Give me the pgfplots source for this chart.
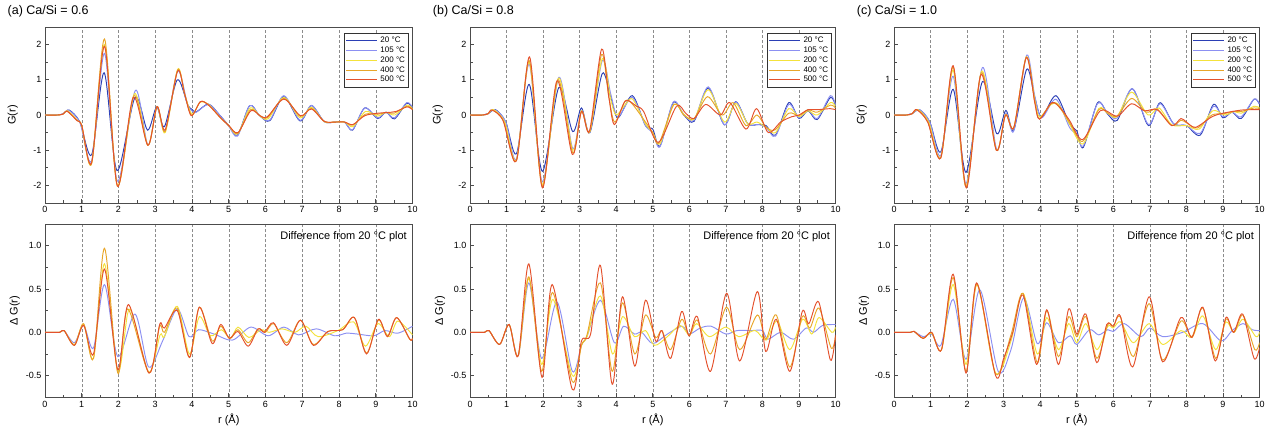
\documentclass[border=0pt]{standalone}
\usepackage{fontspec}
\setmainfont{Liberation Sans}
\usepackage{pgfplots}
\pgfplotsset{compat=1.18}
\definecolor{tA}{HTML}{2B3FB5}
\definecolor{tB}{HTML}{8C90F2}
\definecolor{tC}{HTML}{F4E23C}
\definecolor{tD}{HTML}{E8A62A}
\definecolor{tE}{HTML}{E4512C}

\pgfplotsset{
  panel/.style={
    scale only axis, anchor=south west,
    xmin=0, xmax=10, xtick={0,...,10}, minor x tick num=1,
    tick align=inside, tick pos=left,
    major tick length=4pt, minor tick length=2.5pt,
    axis line style={draw=black!70, line width=0.7pt},
    tick style={draw=black!70, line width=0.6pt},
    xmajorgrids,
    major x grid style={dash pattern=on 3pt off 2pt, draw=black!45, line width=0.5pt},
    /pgf/number format/assume math mode=true,
    ticklabel style={font=\fontsize{9}{10}\selectfont},
    label style={font=\fontsize{11}{12}\selectfont},
    title style={font=\fontsize{12.5}{14}\selectfont, at={(axis description cs:-0.102,1)}, anchor=base west, yshift=6.5pt, inner sep=0pt},
    every axis plot/.append style={smooth, no markers, line width=0.95pt},
  },
  toprow/.style={panel, height=176pt, ymin=-2.5, ymax=2.5, ytick={-2,-1,0,1,2},
    yticklabels={-2,-1,0,1,2}, minor y tick num=1,
    ylabel={G(r)}, ylabel style={at={(axis description cs:-0.088,0.5)}, anchor=center, rotate=0},
    legend entries={20 °C,105 °C,200 °C,400 °C,500 °C},
    legend cell align=left,
    legend image code/.code={\draw[##1, line width=0.9pt] (0pt,0pt) -- (31pt,0pt);},
    legend style={at={(axis description cs:0.99,0.966)}, anchor=north east, draw=black!80, line width=0.6pt,
      font=\fontsize{8}{8}\selectfont, inner sep=1.5pt, row sep=-1.2pt, column sep=1pt},
  },
  botrow/.style={panel, height=173.3pt, ymin=-0.75, ymax=1.25, ytick={-0.5,0,0.5,1},
    yticklabels={-0.5,0.0,0.5,1.0}, minor y tick num=1,
    ylabel={Δ G(r)}, ylabel style={at={(axis description cs:-0.082,0.5)}, anchor=center},
    xlabel={r (Å)}, xlabel style={at={(axis description cs:0.5,-0.131)}, anchor=center},
  },
}
\newcommand{\difftext}{\node[anchor=north east, inner sep=0pt, font=\fontsize{11}{12}\selectfont] at (axis description cs:0.985,0.955) {Difference from 20 °C plot};}

\begin{document}
\begin{tikzpicture}
\path[use as bounding box] (0pt,0pt) rectangle (1274pt,428pt);

% ---------- (a) top
\begin{axis}[toprow, at={(45pt,225pt)}, width=367.5pt, title={(a) Ca/Si = 0.6}]
\addplot[tA] coordinates {(0,0)(0.35,0)(0.5,0.04)(0.66,0.14)(0.95,-0.2)(1.27,-1.13)(1.61,1.2)(1.96,-1.58)(2.45,0.5)(2.79,-0.43)(3.04,0.23)(3.25,-0.33)(3.6,1.0)(3.88,0.3)(4.0,0.16)(4.12,0.09)(4.45,0.31)(4.75,0.0)(5.0,-0.3)(5.24,-0.57)(5.57,0.27)(5.84,-0.02)(6.12,-0.16)(6.5,0.52)(6.94,-0.17)(7.25,0.27)(7.6,-0.19)(7.9,-0.2)(8.15,-0.2)(8.37,-0.43)(8.7,0.2)(9.05,-0.1)(9.28,0.08)(9.51,-0.11)(9.84,0.33)(10,0.2)};
\addplot[tB] coordinates {(0,0)(0.35,0)(0.5,0.04)(0.65,0.13)(0.95,-0.22)(1.27,-1.3)(1.62,1.75)(1.97,-1.88)(2.46,0.7)(2.8,-0.85)(3.05,0.23)(3.27,-0.45)(3.61,1.25)(3.88,0.3)(4.02,0.1)(4.12,0.08)(4.45,0.3)(4.75,0.0)(5.0,-0.32)(5.24,-0.6)(5.57,0.27)(5.84,-0.02)(6.12,-0.14)(6.5,0.55)(6.94,-0.15)(7.25,0.27)(7.6,-0.19)(7.9,-0.2)(8.15,-0.2)(8.37,-0.42)(8.7,0.2)(9.05,-0.08)(9.28,0.08)(9.51,-0.08)(9.84,0.35)(10,0.22)};
\addplot[tC] coordinates {(0,0)(0.35,0)(0.5,0.03)(0.62,0.12)(0.9,-0.17)(1.0,-0.3)(1.27,-1.38)(1.62,2.0)(1.97,-2.0)(2.43,0.6)(2.8,-0.86)(3.05,0.24)(3.27,-0.5)(3.61,1.3)(3.8,0.6)(4.0,0.02)(4.22,0.36)(4.45,0.3)(4.75,-0.05)(5.0,-0.3)(5.24,-0.54)(5.58,0.2)(5.85,-0.03)(6.08,-0.1)(6.5,0.5)(6.94,-0.08)(7.25,0.22)(7.6,-0.19)(7.9,-0.2)(8.15,-0.2)(8.38,-0.33)(8.72,0.1)(9.05,-0.03)(9.28,0.08)(9.52,0.0)(9.85,0.28)(10,0.18)};
\addplot[tD] coordinates {(0,0)(0.35,0)(0.5,0.03)(0.6,0.11)(0.88,-0.16)(1.0,-0.3)(1.27,-1.37)(1.62,2.16)(1.97,-2.02)(2.42,0.55)(2.8,-0.86)(3.05,0.24)(3.27,-0.47)(3.61,1.28)(3.8,0.6)(3.99,-0.01)(4.23,0.38)(4.45,0.29)(4.75,-0.05)(5.0,-0.3)(5.25,-0.52)(5.59,0.15)(5.85,-0.02)(6.06,-0.07)(6.5,0.47)(6.95,-0.04)(7.25,0.19)(7.6,-0.18)(7.9,-0.2)(8.15,-0.2)(8.38,-0.29)(8.71,0.02)(9.05,0.02)(9.3,0.07)(9.5,0.05)(9.85,0.25)(10,0.16)};
\addplot[tE] coordinates {(0,0)(0.35,0)(0.5,0.03)(0.6,0.11)(0.87,-0.16)(1.0,-0.3)(1.27,-1.35)(1.62,1.95)(1.97,-2.02)(2.4,0.5)(2.8,-0.86)(3.05,0.24)(3.27,-0.42)(3.61,1.25)(3.8,0.6)(3.98,-0.02)(4.23,0.38)(4.45,0.28)(4.75,-0.05)(5.0,-0.3)(5.25,-0.5)(5.6,0.12)(5.85,-0.02)(6.05,-0.05)(6.5,0.45)(6.95,-0.02)(7.25,0.17)(7.6,-0.18)(7.9,-0.2)(8.15,-0.2)(8.38,-0.27)(8.7,-0.02)(9.05,0.05)(9.3,0.07)(9.55,0.1)(9.85,0.23)(10,0.15)};
\end{axis}

% ---------- (a) bottom
\begin{axis}[botrow, at={(45pt,30.7pt)}, width=367.5pt]
\addplot[tB] coordinates {(0,0)(0.4,0)(0.52,0.02)(0.8,-0.12)(1.05,0.08)(1.32,-0.18)(1.62,0.55)(1.98,-0.28)(2.45,0.21)(2.82,-0.4)(3.2,-0.1)(3.6,0.27)(3.92,-0.05)(4.18,0.03)(4.6,-0.02)(5.1,-0.09)(5.6,0.06)(6.07,-0.04)(6.5,0.06)(6.9,-0.03)(7.38,0.04)(7.88,-0.04)(8.2,-0.01)(8.5,-0.02)(8.95,-0.04)(9.25,0.02)(9.6,-0.01)(10,0.07)};
\addplot[tC] coordinates {(0,0)(0.4,0)(0.52,0.02)(0.8,-0.14)(1.05,0.09)(1.32,-0.3)(1.62,0.79)(1.98,-0.45)(2.25,0.22)(2.4,0.18)(2.83,-0.46)(3.13,-0.03)(3.25,-0.05)(3.6,0.3)(3.93,-0.25)(4.2,0.18)(4.5,-0.04)(4.8,0.03)(5.05,-0.07)(5.25,0.06)(5.55,-0.06)(5.88,0.03)(6.1,0.0)(6.45,0.04)(6.8,0.0)(7.1,0.07)(7.43,-0.05)(7.97,0.02)(8.4,0.12)(8.72,-0.16)(9.06,0.1)(9.37,-0.05)(9.6,0.13)(10,-0.03)};
\addplot[tD] coordinates {(0,0)(0.4,0)(0.52,0.02)(0.8,-0.15)(1.05,0.1)(1.32,-0.3)(1.62,0.97)(1.98,-0.47)(2.25,0.27)(2.83,-0.47)(3.12,0.07)(3.25,0.0)(3.6,0.28)(3.93,-0.29)(4.2,0.29)(4.55,-0.1)(4.78,0.07)(5.02,-0.07)(5.25,0.03)(5.53,-0.12)(5.8,0.04)(6.0,0.0)(6.22,0.1)(6.58,-0.12)(6.95,0.14)(7.3,-0.14)(7.7,0.01)(8.1,0.03)(8.42,0.17)(8.75,-0.24)(9.07,0.14)(9.32,-0.04)(9.57,0.17)(9.92,-0.08)(10,-0.07)};
\addplot[tE] coordinates {(0,0)(0.4,0)(0.52,0.02)(0.8,-0.15)(1.05,0.08)(1.32,-0.25)(1.62,0.73)(1.98,-0.43)(2.27,0.32)(2.83,-0.47)(3.12,0.09)(3.25,0.05)(3.6,0.25)(3.93,-0.29)(4.2,0.29)(4.55,-0.13)(4.78,0.09)(5.02,-0.07)(5.25,0.01)(5.53,-0.16)(5.8,0.04)(5.97,0.0)(6.22,0.11)(6.58,-0.15)(6.95,0.14)(7.3,-0.15)(7.7,0.01)(8.1,0.03)(8.42,0.17)(8.75,-0.25)(9.07,0.15)(9.32,-0.05)(9.57,0.17)(9.93,-0.08)(10,-0.07)};
\difftext
\end{axis}

% ---------- (b) top
\begin{axis}[toprow, at={(470pt,225pt)}, width=365.5pt, title={(b) Ca/Si = 0.8}]
\addplot[tA] coordinates {(0,0)(0.35,0)(0.5,0.04)(0.7,0.15)(0.98,-0.2)(1.27,-1.1)(1.62,0.87)(1.98,-1.6)(2.43,0.78)(2.81,-0.47)(3.05,0.2)(3.28,-0.5)(3.62,1.18)(3.85,0.5)(4.05,-0.08)(4.44,0.55)(4.8,-0.3)(5.0,-0.4)(5.2,-0.88)(5.56,0.35)(5.85,0.0)(6.13,-0.18)(6.52,0.77)(6.96,-0.28)(7.27,0.38)(7.6,-0.25)(7.9,-0.27)(8.1,-0.3)(8.36,-0.57)(8.72,0.35)(9.0,-0.1)(9.25,0.12)(9.5,-0.13)(9.86,0.5)(10,0.25)};
\addplot[tB] coordinates {(0,0)(0.35,0)(0.5,0.04)(0.68,0.15)(0.98,-0.2)(1.27,-1.25)(1.62,1.45)(1.98,-1.9)(2.43,1.07)(2.81,-0.95)(3.05,0.12)(3.28,-0.48)(3.62,1.55)(3.85,0.6)(4.05,-0.05)(4.44,0.5)(4.8,-0.3)(5.0,-0.5)(5.2,-0.9)(5.56,0.37)(5.85,0.02)(6.13,-0.15)(6.52,0.8)(6.96,-0.28)(7.27,0.37)(7.6,-0.25)(7.9,-0.27)(8.1,-0.35)(8.36,-0.6)(8.72,0.3)(9.0,-0.08)(9.25,0.15)(9.5,-0.1)(9.86,0.55)(10,0.28)};
\addplot[tC] coordinates {(0,0)(0.35,0)(0.5,0.04)(0.65,0.15)(0.95,-0.2)(1.27,-1.28)(1.62,1.5)(1.98,-1.98)(2.42,1.05)(2.81,-1.0)(3.05,0.12)(3.28,-0.47)(3.62,1.6)(3.85,0.45)(4.0,0.0)(4.25,0.3)(4.45,0.45)(4.8,-0.25)(5.0,-0.5)(5.2,-0.82)(5.57,0.3)(5.85,0.02)(6.13,-0.12)(6.52,0.72)(6.96,-0.2)(7.27,0.33)(7.6,-0.25)(7.85,-0.2)(8.1,-0.35)(8.36,-0.5)(8.72,0.18)(9.0,-0.05)(9.25,0.12)(9.5,0.0)(9.86,0.35)(10,0.25)};
\addplot[tD] coordinates {(0,0)(0.35,0)(0.5,0.04)(0.62,0.14)(0.92,-0.18)(1.27,-1.3)(1.62,1.55)(1.98,-2.03)(2.4,1.0)(2.81,-1.07)(3.05,0.1)(3.28,-0.47)(3.6,1.72)(3.8,0.5)(3.96,-0.2)(4.25,0.4)(4.45,0.3)(4.8,-0.2)(5.0,-0.5)(5.17,-0.8)(5.58,0.3)(5.85,0.0)(6.13,-0.1)(6.5,0.52)(6.9,0.0)(7.2,0.35)(7.55,-0.3)(7.85,0.0)(8.1,-0.35)(8.35,-0.42)(8.72,0.05)(9.0,-0.02)(9.25,0.15)(9.5,0.08)(9.86,0.28)(10,0.2)};
\addplot[tE] coordinates {(0,0)(0.35,0)(0.5,0.04)(0.6,0.14)(0.9,-0.15)(1.27,-1.3)(1.63,1.65)(1.98,-2.07)(2.38,0.97)(2.8,-1.12)(3.05,0.1)(3.27,-0.45)(3.6,1.87)(3.8,0.5)(3.95,-0.27)(4.25,0.4)(4.55,0.25)(4.75,0.1)(5.15,-0.78)(5.65,0.25)(5.9,0.05)(6.13,-0.1)(6.45,0.3)(6.85,0.0)(7.11,0.35)(7.55,-0.4)(7.84,0.18)(8.16,-0.5)(8.5,-0.2)(8.8,-0.05)(9.0,0.0)(9.25,0.15)(9.5,0.15)(9.85,0.18)(10,0.15)};
\end{axis}

% ---------- (b) bottom
\begin{axis}[botrow, at={(470pt,30.7pt)}, width=365.5pt]
\addplot[tB] coordinates {(0,0)(0.4,0)(0.52,0.02)(0.81,-0.14)(1.07,0.09)(1.32,-0.27)(1.61,0.57)(1.96,-0.3)(2.38,0.35)(2.8,-0.45)(3.05,-0.15)(3.2,-0.05)(3.57,0.37)(3.95,-0.12)(4.2,0.07)(4.5,-0.02)(4.7,0.0)(5.0,-0.13)(5.4,-0.02)(5.8,0.07)(6.0,-0.02)(6.3,0.05)(6.6,0.07)(7.0,-0.02)(7.3,0.02)(7.7,0.02)(8.0,0.02)(8.15,-0.08)(8.5,0.0)(8.85,-0.08)(9.2,0.05)(9.4,0.0)(9.65,0.08)(10,0.09)};
\addplot[tC] coordinates {(0,0)(0.4,0)(0.52,0.02)(0.81,-0.14)(1.07,0.09)(1.32,-0.27)(1.61,0.62)(1.96,-0.37)(2.27,0.38)(2.8,-0.5)(3.05,-0.15)(3.2,-0.05)(3.57,0.42)(3.9,-0.25)(4.17,0.18)(4.5,-0.05)(4.8,0.02)(5.05,-0.15)(5.4,-0.05)(5.75,0.08)(6.0,-0.03)(6.2,0.1)(6.55,-0.05)(7.0,0.06)(7.35,-0.05)(7.8,0.02)(8.1,-0.09)(8.4,0.13)(8.75,-0.2)(9.1,0.15)(9.35,-0.02)(9.55,0.17)(9.9,0.0)(10,0.06)};
\addplot[tD] coordinates {(0,0)(0.4,0)(0.52,0.02)(0.81,-0.14)(1.07,0.09)(1.32,-0.27)(1.61,0.64)(1.96,-0.45)(2.26,0.46)(2.8,-0.57)(3.05,-0.15)(3.2,-0.03)(3.57,0.57)(3.89,-0.45)(4.17,0.34)(4.51,-0.25)(4.8,0.2)(5.08,-0.06)(5.25,0.02)(5.49,-0.2)(5.79,0.15)(6.0,-0.04)(6.22,0.14)(6.58,-0.25)(7.02,0.29)(7.38,-0.2)(7.86,0.2)(8.09,-0.08)(8.38,0.2)(8.75,-0.4)(9.09,0.18)(9.3,0.05)(9.55,0.28)(9.88,-0.18)(10,-0.05)};
\addplot[tE] coordinates {(0,0)(0.4,0)(0.52,0.02)(0.81,-0.14)(1.07,0.09)(1.32,-0.27)(1.61,0.79)(1.97,-0.52)(2.25,0.55)(2.8,-0.66)(3.05,-0.1)(3.3,-0.02)(3.57,0.77)(3.89,-0.6)(4.17,0.41)(4.51,-0.39)(4.8,0.37)(5.08,-0.1)(5.25,0.02)(5.49,-0.3)(5.79,0.24)(5.99,-0.04)(6.22,0.18)(6.58,-0.45)(7.02,0.45)(7.38,-0.33)(7.86,0.47)(8.09,-0.22)(8.38,0.15)(8.75,-0.45)(9.09,0.24)(9.27,0.1)(9.54,0.35)(9.86,-0.32)(10,-0.03)};
\difftext
\end{axis}

% ---------- (c) top
\begin{axis}[toprow, at={(894pt,225pt)}, width=365.5pt, title={(c) Ca/Si = 1.0}]
\addplot[tA] coordinates {(0,0)(0.35,0)(0.5,0.04)(0.7,0.15)(0.98,-0.2)(1.28,-1.05)(1.62,0.73)(1.97,-1.63)(2.42,0.95)(2.81,-0.53)(3.06,0.13)(3.28,-0.42)(3.63,1.3)(3.85,0.5)(4.04,-0.05)(4.43,0.55)(4.8,-0.25)(5.0,-0.45)(5.18,-0.92)(5.57,0.35)(5.85,0.02)(6.11,-0.15)(6.52,0.75)(6.96,-0.3)(7.28,0.35)(7.65,-0.25)(8.0,-0.3)(8.38,-0.57)(8.74,0.3)(9.0,-0.08)(9.25,0.08)(9.5,-0.1)(9.85,0.45)(10,0.3)};
\addplot[tB] coordinates {(0,0)(0.35,0)(0.5,0.04)(0.7,0.15)(0.98,-0.2)(1.28,-1.15)(1.62,1.1)(1.97,-1.95)(2.42,1.35)(2.81,-0.98)(3.06,0.05)(3.28,-0.45)(3.63,1.7)(3.85,0.55)(4.04,-0.08)(4.43,0.45)(4.8,-0.35)(5.0,-0.55)(5.18,-0.88)(5.57,0.33)(5.85,0.05)(6.11,-0.08)(6.52,0.75)(6.96,-0.27)(7.28,0.32)(7.65,-0.25)(8.0,-0.3)(8.38,-0.52)(8.74,0.25)(9.0,-0.05)(9.25,0.08)(9.5,-0.05)(9.85,0.45)(10,0.32)};
\addplot[tC] coordinates {(0,0)(0.35,0)(0.5,0.04)(0.66,0.15)(0.95,-0.2)(1.28,-1.2)(1.62,1.27)(1.97,-2.02)(2.4,1.25)(2.8,-1.0)(3.05,0.02)(3.28,-0.35)(3.62,1.65)(3.85,0.45)(3.98,-0.05)(4.3,0.3)(4.5,0.3)(4.8,-0.25)(5.17,-0.82)(5.6,0.18)(5.85,0.05)(6.1,-0.05)(6.5,0.65)(6.95,0.0)(7.25,0.2)(7.6,-0.28)(8.0,-0.3)(8.35,-0.4)(8.72,0.12)(9.05,0.0)(9.3,0.1)(9.5,0.05)(9.85,0.25)(10,0.2)};
\addplot[tD] coordinates {(0,0)(0.35,0)(0.5,0.04)(0.64,0.15)(0.93,-0.2)(1.28,-1.22)(1.62,1.36)(1.97,-2.05)(2.39,1.2)(2.8,-1.0)(3.05,0.0)(3.28,-0.35)(3.62,1.65)(3.85,0.4)(3.97,-0.1)(4.3,0.33)(4.5,0.25)(4.8,-0.2)(5.16,-0.75)(5.6,0.15)(5.85,0.05)(6.1,-0.03)(6.5,0.47)(6.9,0.08)(7.2,0.17)(7.6,-0.3)(7.85,-0.15)(8.0,-0.22)(8.3,-0.37)(8.7,0.0)(9.0,0.03)(9.3,0.1)(9.5,0.1)(9.85,0.2)(10,0.18)};
\addplot[tE] coordinates {(0,0)(0.35,0)(0.5,0.04)(0.62,0.15)(0.92,-0.2)(1.28,-1.22)(1.62,1.4)(1.98,-2.07)(2.38,1.15)(2.8,-1.0)(3.05,0.0)(3.28,-0.35)(3.62,1.63)(3.85,0.35)(3.98,-0.12)(4.32,0.35)(4.55,0.2)(4.8,-0.15)(5.16,-0.7)(5.64,0.12)(6.0,0.0)(6.15,-0.02)(6.5,0.32)(6.85,0.12)(7.2,0.15)(7.6,-0.3)(7.85,-0.1)(8.0,-0.2)(8.25,-0.35)(8.7,-0.05)(9.0,0.05)(9.5,0.14)(9.85,0.15)(10,0.15)};
\end{axis}

% ---------- (c) bottom
\begin{axis}[botrow, at={(894pt,30.7pt)}, width=365.5pt]
\addplot[tB] coordinates {(0,0)(0.45,0)(0.55,0.01)(0.8,-0.05)(1.03,-0.02)(1.28,-0.15)(1.62,0.38)(1.97,-0.31)(2.35,0.49)(2.85,-0.45)(3.2,-0.2)(3.55,0.4)(3.92,-0.13)(4.18,0.11)(4.5,-0.12)(4.82,-0.04)(5.0,-0.14)(5.35,0.03)(5.6,-0.03)(5.85,0.03)(6.0,0.01)(6.3,0.1)(6.75,-0.05)(7.0,0.05)(7.35,-0.05)(7.9,0.0)(8.45,0.1)(8.95,-0.1)(9.25,0.02)(9.55,0.1)(9.8,0.03)(10,0.02)};
\addplot[tC] coordinates {(0,0)(0.45,0)(0.55,0.01)(0.8,-0.07)(1.03,-0.01)(1.3,-0.2)(1.62,0.55)(1.97,-0.37)(2.27,0.55)(2.78,-0.47)(3.2,-0.1)(3.53,0.45)(3.92,-0.25)(4.18,0.17)(4.5,-0.2)(4.78,0.1)(5.0,-0.12)(5.25,0.1)(5.55,-0.2)(5.85,0.07)(6.0,0.05)(6.2,0.12)(6.55,-0.12)(6.98,0.1)(7.35,-0.14)(7.85,0.02)(8.15,-0.06)(8.45,0.19)(8.8,-0.2)(9.08,0.12)(9.3,0.0)(9.55,0.15)(9.9,-0.05)(10,0.0)};
\addplot[tD] coordinates {(0,0)(0.45,0)(0.55,0.01)(0.8,-0.07)(1.03,0.0)(1.3,-0.2)(1.62,0.63)(1.97,-0.45)(2.27,0.56)(2.78,-0.48)(3.2,-0.03)(3.53,0.45)(3.92,-0.35)(4.18,0.25)(4.5,-0.28)(4.78,0.18)(5.0,-0.05)(5.25,0.18)(5.55,-0.3)(5.85,0.09)(6.0,0.07)(6.19,0.18)(6.55,-0.28)(6.98,0.33)(7.35,-0.32)(7.85,0.13)(8.15,-0.05)(8.45,0.28)(8.8,-0.3)(9.08,0.15)(9.3,0.0)(9.55,0.2)(9.87,-0.2)(10,-0.12)};
\addplot[tE] coordinates {(0,0)(0.45,0)(0.55,0.01)(0.8,-0.07)(1.03,0.0)(1.3,-0.2)(1.62,0.67)(1.97,-0.47)(2.26,0.57)(2.78,-0.5)(3.0,-0.3)(3.25,0.0)(3.53,0.43)(3.9,-0.37)(4.18,0.26)(4.5,-0.37)(4.78,0.27)(5.0,-0.02)(5.25,0.21)(5.55,-0.35)(5.82,0.09)(6.0,0.07)(6.19,0.19)(6.53,-0.4)(6.98,0.41)(7.35,-0.34)(7.85,0.17)(8.15,-0.06)(8.45,0.29)(8.79,-0.33)(9.08,0.17)(9.29,0.0)(9.54,0.21)(9.85,-0.3)(10,-0.18)};
\difftext
\end{axis}
\end{tikzpicture}
\end{document}
